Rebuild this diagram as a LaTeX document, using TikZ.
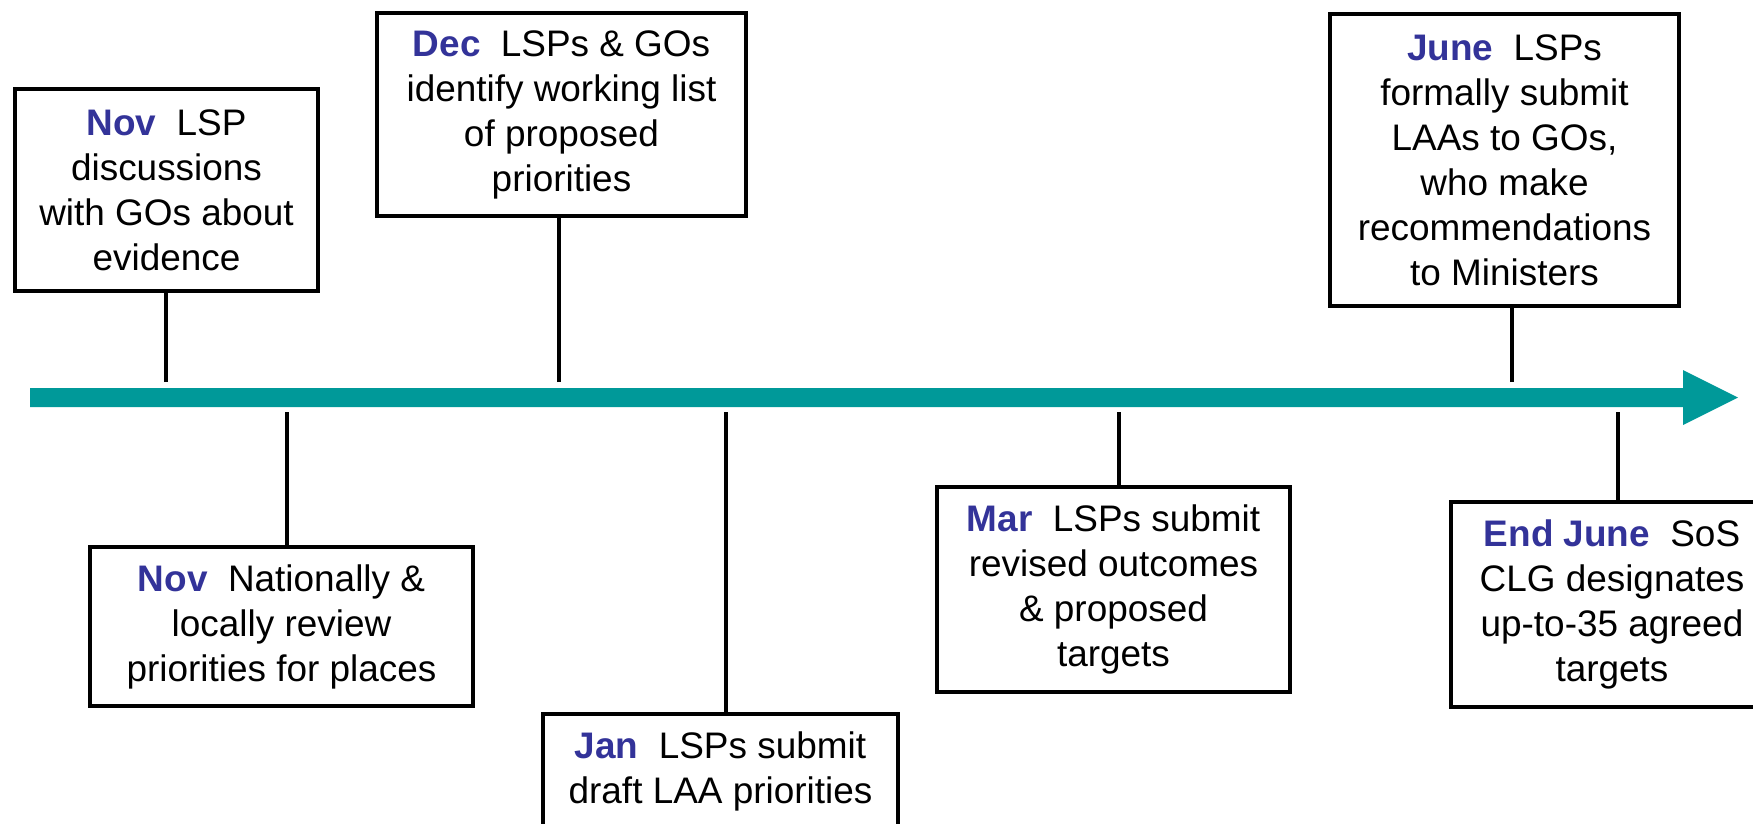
\documentclass[tikz,border=0pt]{standalone}
\usepackage{fontspec}
\setmainfont{Liberation Sans}
\definecolor{barteal}{RGB}{0,153,153}
\definecolor{monthblue}{RGB}{51,51,153}
\newcommand{\mon}[1]{\textbf{\color{monthblue}#1}\hspace{0.55em}}

\begin{document}
\begin{tikzpicture}[x=0.01cm,y=-0.01cm,
                       line width=0.9pt,event box/.style={rectangle,draw,line width=1pt,fill=white,align=center,inner sep=0pt,
                       font=\fontsize{10.5}{12.8}\selectfont}
                      ]
  \useasboundingbox (0,0) rectangle (1753,823);

  \fill[barteal] (30,388) -- (1683,388) -- (1683,370) -- (1738,397.5) -- (1683,425) -- (1683,407) -- (30,407) -- cycle;

  \node[event box,minimum width=3.03cm,minimum height=2.02cm] (novA) at (166.5,190) {\mon{Nov}LSP\\discussions\\with GOs about\\evidence};
  \node[event box,minimum width=3.69cm,minimum height=2.03cm] (dec) at (561.5,114.5) {\mon{Dec}LSPs \& GOs\\identify working list\\of proposed\\priorities};
  \node[event box,minimum width=3.49cm,minimum height=2.92cm] (june) at (1504.5,160) {\mon{June}LSPs\\formally submit\\LAAs to GOs,\\who make\\recommendations\\to Ministers};
  \node[event box,minimum width=3.83cm,minimum height=1.59cm] (novB) at (281.5,626.5) {\mon{Nov}Nationally \&\\locally review\\priorities for places};
  \node[event box,minimum width=3.55cm,minimum height=1.14cm] (jan) at (720.5,771) {\mon{Jan}LSPs submit\\draft LAA priorities};
  \node[event box,minimum width=3.53cm,minimum height=2.05cm] (mar) at (1113.5,589.5) {\mon{Mar}LSPs submit\\revised outcomes\\\& proposed\\targets};
  \node[event box,minimum width=3.22cm,minimum height=2.05cm] (endjune) at (1612,604.5) {\mon{End June}SoS\\CLG designates\\up-to-35 agreed\\targets};

  \coordinate (tNovA) at (166,382);
  \coordinate (tDec) at (559,382);
  \coordinate (tJune) at (1512,382);
  \coordinate (tNovB) at (287,412);
  \coordinate (tJan) at (726,412);
  \coordinate (tMar) at (1119,412);
  \coordinate (tEndJune) at (1618,412);

  \path%
   (tNovA) edge (tNovA |- novA.south)
   (tDec) edge (tDec |- dec.south)
   (tJune) edge (tJune |- june.south)
   (tNovB) edge (tNovB |- novB.north)
   (tJan) edge (tJan |- jan.north)
   (tMar) edge (tMar |- mar.north)
   (tEndJune) edge (tEndJune |- endjune.north);
 \end{tikzpicture}
\end{document}
